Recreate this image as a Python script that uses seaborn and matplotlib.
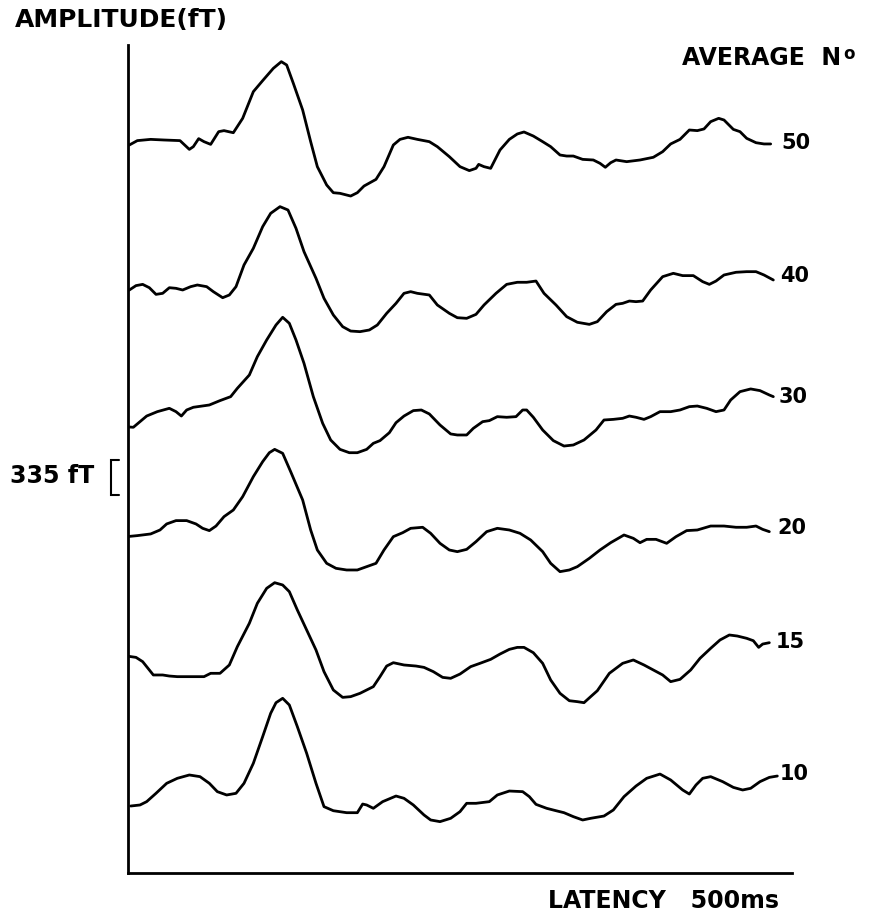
import matplotlib
matplotlib.use("Agg")
import matplotlib.pyplot as plt
import seaborn as sns
import pandas as pd

# ---- data: latency (ms) and amplitude (fT, relative to trace start) ----
labels = ["50", "40", "30", "20", "15", "10"]

lat50 = [-3, 1, 7, 17, 27, 39, 46, 49, 53, 57, 62, 68, 72, 79, 86, 94, 101, 109, 115, 119,
         124, 131, 137, 142, 149, 154, 159, 167, 172, 177, 186, 192, 199, 204, 210, 217, 226, 232, 241, 249,
         256, 261, 263, 267, 272, 279, 286, 292, 297, 304, 311, 317, 324, 329, 334, 341, 349, 354, 358, 362,
         366, 374, 384, 394, 401, 407, 414, 421, 427, 432, 437, 443, 447, 454, 459, 464, 471, 477, 482]
amp50 = [-6, -16, 26, 38, 32, 26, -58, -32, 45, 16, -10, 112, 122, 102, 240, 496, 602, 720, 784, 752,
         576, 320, 16, -224, -400, -474, -480, -506, -474, -410, -346, -224, -16, 38, 58, 38, 16, -32, -128, -224,
         -262, -240, -202, -224, -240, -64, 38, 90, 109, 70, 16, -32, -112, -122, -122, -154, -160, -192, -230, -186,
         -160, -176, -160, -134, -80, -6, 38, 128, 122, 138, 208, 240, 224, 134, 112, 48, 6, -6, -6]

lat40 = [-3, 1, 6, 11, 16, 21, 26, 31, 36, 41, 47, 52, 59, 64, 71, 76, 81, 87, 94, 101,
         107, 114, 120, 126, 132, 141, 147, 154, 161, 167, 174, 181, 187, 194, 201, 207, 212, 217, 226, 232,
         241, 247, 254, 261, 267, 276, 284, 292, 299, 306, 312, 321, 329, 337, 346, 352, 359, 366, 371, 376,
         381, 386, 392, 401, 409, 416, 424, 431, 436, 441, 447, 456, 464, 471, 477, 484]
amp40 = [0, 16, 58, 70, 38, -26, -16, 38, 32, 16, 48, 64, 48, 0, -58, -32, 48, 256, 416, 624,
         752, 816, 784, 608, 384, 128, -64, -224, -336, -378, -384, -368, -320, -208, -112, -16, 0, -16, -32, -128,
         -208, -250, -256, -218, -128, -16, 70, 90, 90, 102, -16, -128, -240, -294, -314, -288, -192, -122, -112, -90,
         -96, -90, 16, 144, 176, 154, 154, 96, 70, 102, 160, 186, 192, 192, 160, 112]

lat30 = [-3, 4, 9, 14, 22, 31, 36, 40, 44, 49, 61, 69, 77, 82, 91, 97, 104, 111, 116, 121,
         126, 132, 139, 146, 152, 159, 166, 172, 179, 184, 189, 196, 201, 207, 214, 220, 226, 234, 242, 247,
         254, 259, 266, 271, 277, 284, 291, 296, 299, 304, 311, 319, 327, 334, 342, 351, 357, 364, 371, 376,
         381, 387, 392, 399, 407, 414, 421, 427, 434, 441, 447, 452, 459, 467, 474, 481, 484]
amp30 = [0, -6, 48, 102, 144, 176, 144, 102, 160, 186, 208, 250, 288, 368, 496, 672, 832, 976, 1050, 992,
         832, 608, 288, 32, -128, -218, -250, -250, -218, -160, -134, -58, 38, 102, 154, 160, 122, 16, -70, -80,
         -80, -16, 48, 58, 96, 90, 96, 160, 160, 90, -32, -134, -186, -176, -128, -32, 64, 70, 80, 102,
         90, 70, 96, 144, 144, 160, 192, 198, 176, 144, 160, 256, 336, 362, 346, 304, 288]

lat20 = [-1, 7, 17, 24, 29, 36, 44, 51, 56, 61, 66, 72, 79, 86, 94, 101, 106, 110, 116, 122,
         131, 137, 142, 149, 156, 164, 172, 179, 186, 192, 199, 206, 212, 221, 227, 234, 241, 247, 254, 261,
         269, 277, 286, 294, 302, 311, 317, 324, 331, 337, 346, 354, 362, 372, 379, 384, 389, 396, 404, 411,
         419, 427, 437, 447, 456, 464, 471, 476, 481]
amp20 = [0, 10, 26, 64, 122, 154, 154, 122, 80, 58, 102, 192, 256, 384, 576, 720, 806, 838, 800, 624,
         352, 64, -128, -256, -304, -320, -320, -288, -256, -128, 0, 38, 80, 90, 32, -64, -128, -144, -122, -48,
         48, 80, 64, 32, -32, -144, -256, -336, -320, -288, -208, -128, -58, 16, -16, -58, -26, -26, -64, 0,
         58, 64, 102, 102, 90, 90, 102, 70, 48]

lat15 = [-1, 6, 11, 16, 19, 26, 31, 37, 47, 57, 62, 69, 76, 82, 91, 97, 104, 110, 116, 121,
         127, 134, 141, 147, 154, 161, 167, 174, 184, 189, 194, 199, 207, 216, 222, 229, 236, 242, 249, 257,
         264, 272, 279, 286, 292, 297, 304, 311, 317, 324, 331, 337, 342, 347, 352, 361, 371, 379, 387, 394,
         401, 407, 414, 422, 429, 437, 444, 451, 457, 464, 469, 473, 476, 481]
amp15 = [0, -13, -54, -134, -182, -182, -192, -198, -198, -198, -166, -166, -86, 90, 314, 506, 650, 704, 682, 618,
         442, 250, 58, -150, -326, -397, -390, -358, -294, -198, -96, -64, -86, -96, -109, -150, -205, -214, -173, -102,
         -70, -32, 19, 64, 83, 83, 32, -70, -230, -358, -429, -438, -448, -390, -333, -166, -70, -38, -86, -134,
         -182, -246, -224, -134, -22, 74, 154, 202, 192, 170, 147, 83, 115, 128]

lat10 = [2, 9, 14, 21, 29, 37, 46, 54, 61, 67, 74, 81, 87, 94, 101, 107, 111, 116, 121, 127,
         134, 141, 147, 154, 164, 172, 176, 179, 184, 191, 201, 207, 214, 222, 227, 234, 242, 249, 254, 261,
         271, 277, 286, 296, 301, 306, 314, 321, 327, 334, 341, 347, 357, 364, 372, 381, 389, 399, 407, 416,
         421, 426, 431, 437, 446, 454, 461, 467, 474, 481, 487]
amp10 = [0, 10, 42, 122, 218, 266, 298, 282, 218, 138, 106, 122, 218, 410, 666, 890, 992, 1034, 970, 762,
         506, 218, -6, -45, -64, -64, 19, 10, -22, 42, 96, 74, 10, -86, -134, -150, -118, -54, 26, 26,
         42, 106, 144, 138, 90, 16, -22, -45, -64, -102, -134, -118, -96, -38, 90, 192, 266, 307, 250, 154,
         115, 202, 266, 282, 234, 179, 154, 170, 234, 275, 288]

scale_bar_fT = 335

# ---- layout (stacking offsets and label positions, in axis units) ----
offsets = [7005, 5581, 4285, 3229, 2083, 643]
label_y = [7008, 5731, 4570, 3312, 2218, 950]
label_x = [490, 489, 488, 487, 486, 489]

lats = [lat50, lat40, lat30, lat20, lat15, lat10]
amps = [amp50, amp40, amp30, amp20, amp15, amp10]

frames = []
for lab, la, am, off in zip(labels, lats, amps, offsets):
    frames.append(pd.DataFrame({"latency": la,
                                "display": [a + off for a in am],
                                "average": lab}))
df = pd.concat(frames, ignore_index=True)

sns.set_theme(style="white")
plt.rcParams["font.family"] = ["DejaVu Sans"]
plt.rcParams["font.weight"] = "bold"
plt.rcParams["text.color"] = "black"

W, H = 871, 917
fig = plt.figure(figsize=(W / 100, H / 100), dpi=100)
ax = fig.add_axes([128 / W, 1 - 873 / H, (792 - 128) / W, (873 - 45) / H])

sns.lineplot(data=df, x="latency", y="display", units="average", estimator=None,
             sort=False, color="black", linewidth=2.0, ax=ax, legend=False,
             solid_joinstyle="round", solid_capstyle="round")

ax.set_xlim(0, 498)
ax.set_ylim(0, 7949)
ax.set_xticks([])
ax.set_yticks([])
ax.set_xlabel("")
ax.set_ylabel("")
for s in ["top", "right"]:
    ax.spines[s].set_visible(False)
for s in ["left", "bottom"]:
    ax.spines[s].set_color("black")
    ax.spines[s].set_linewidth(2.0)

txt = dict(fontweight="bold", color="black")

# trace labels
for lab, lx, ly in zip(labels, label_x, label_y):
    ax.text(lx, ly, lab, fontsize=15, ha="left", va="center", clip_on=False, **txt)

# scale bar bracket
yb = 3629
ax.plot([-7, -13, -13, -7], [yb + scale_bar_fT, yb + scale_bar_fT, yb, yb],
        color="black", linewidth=1.5, clip_on=False, solid_joinstyle="miter")
fig.text(10 / W, 1 - 476 / H, f"{scale_bar_fT} fT", fontsize=17, ha="left", va="center", **txt)

fig.text(15 / W, 1 - 20 / H, "AMPLITUDE(fT)", fontsize=18, ha="left", va="center", **txt)
fig.text(682 / W, 1 - 58 / H, "AVERAGE  N", fontsize=17, ha="left", va="center", **txt)
fig.text(843 / W, 1 - 54 / H, "o", fontsize=12, ha="left", va="center", **txt)
fig.text(548 / W, 1 - 901 / H, "LATENCY   500ms", fontsize=17, ha="left", va="center", **txt)

fig.savefig("out.png", dpi=100, facecolor="white")
